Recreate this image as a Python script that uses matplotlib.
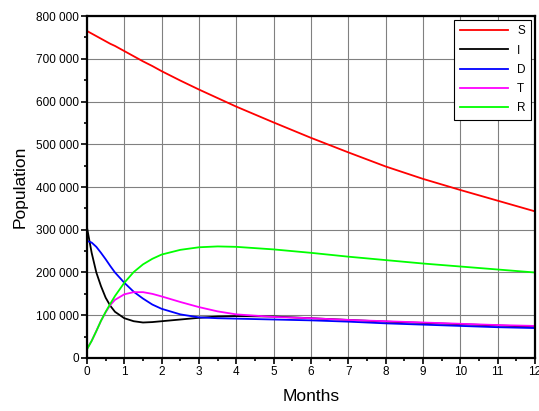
import matplotlib
matplotlib.use('Agg')
import matplotlib.pyplot as plt
from matplotlib.ticker import FuncFormatter, MultipleLocator

plt.rcParams['font.family'] = ['Liberation Sans', 'DejaVu Sans']

# months
t = [0, 0.125, 0.25, 0.375, 0.5, 0.625, 0.75, 1, 1.25, 1.5, 1.75, 2, 2.5, 3,
     3.5, 4, 5, 6, 7, 8, 9, 10, 11, 12]

# populations in thousands
S = [765, 759, 753, 747, 741, 735, 730, 718, 706, 694, 683, 671, 649, 628,
     608, 588, 551, 515, 481, 448, 419, 393, 368, 343]
I = [305, 246, 200, 168, 141, 122, 108, 93, 86, 83, 84, 86, 90, 94,
     97, 98, 97, 93, 89, 85, 82, 79, 76, 73]
D = [274, 270, 260, 246, 231, 215, 200, 176, 155, 139, 125, 115, 102, 95,
     93, 92, 90, 88, 85, 81, 78, 75, 72, 70]
T = [22, 40, 63, 87, 107, 124, 136, 149, 154, 154, 150, 144, 131, 119,
     109, 102, 96, 93, 89, 86, 83, 80, 77, 75]
R = [20, 40, 63, 87, 108, 127, 145, 176, 201, 219, 232, 242, 253, 259,
     261, 260, 254, 246, 237, 229, 221, 214, 207, 200]

series = [('S', S, '#ff0000'), ('I', I, '#000000'), ('D', D, '#0000ff'),
          ('T', T, '#ff00ff'), ('R', R, '#00ff00')]

fig = plt.figure(figsize=(5.39, 4.11), dpi=100)
ax = fig.add_axes([0.1614, 0.129, 0.8312, 0.832])

for name, vals, col in series:
    ax.plot(t, [v * 1000 for v in vals], color=col, lw=1.3, label=name)

ax.set_xlim(0, 12)
ax.set_ylim(0, 800000)
ax.xaxis.set_major_locator(MultipleLocator(1))
ax.xaxis.set_minor_locator(MultipleLocator(0.5))
ax.yaxis.set_major_locator(MultipleLocator(100000))
ax.yaxis.set_minor_locator(MultipleLocator(50000))
ax.yaxis.set_major_formatter(FuncFormatter(lambda v, p: f'{int(v):,}'.replace(',', ' ')))

ax.grid(True, which='major', color='0.5', lw=0.8)
ax.set_axisbelow(True)
for s in ax.spines.values():
    s.set_linewidth(1.6)
ax.tick_params(which='major', direction='out', length=4, width=1.2, labelsize=8.5, pad=2)
ax.tick_params(which='minor', direction='out', length=2.5, width=1.2)

ax.set_xlabel('Months', fontsize=12.5, labelpad=8)
ax.set_ylabel('Population', fontsize=12.5, labelpad=6)

leg = ax.legend(loc='upper right', fontsize=8.5, handlelength=4.0, fancybox=False,
                framealpha=1, edgecolor='black', borderpad=0.5, labelspacing=0.6,
                handletextpad=0.8, borderaxespad=0.3)
leg.get_frame().set_linewidth(0.8)
for h in leg.get_lines():
    h.set_linewidth(1.3)

fig.savefig('out.png', dpi=100)
